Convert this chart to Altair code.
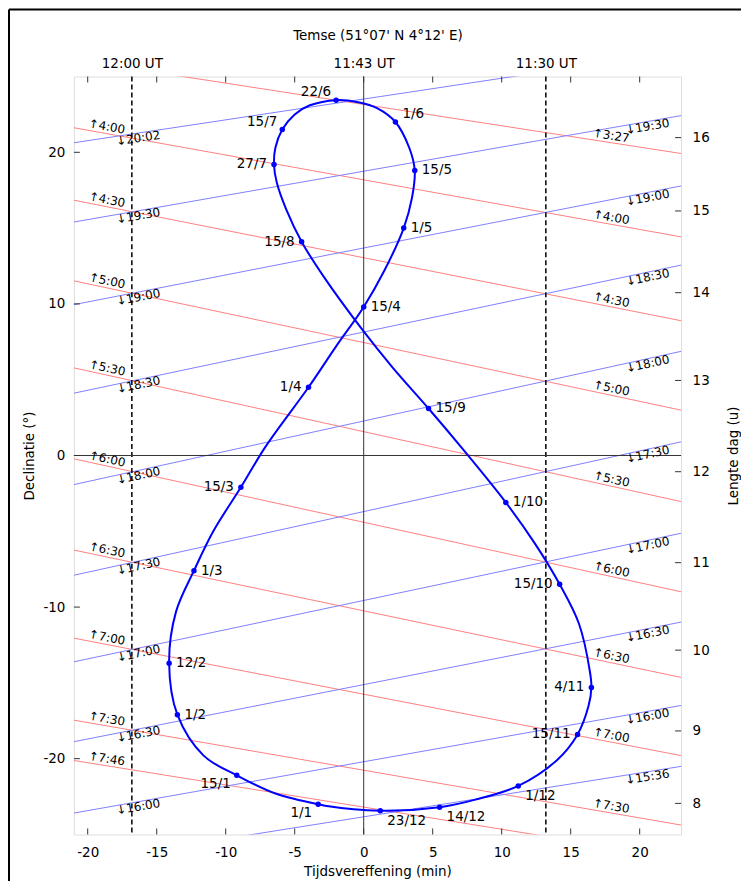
import math
import altair as alt
import pandas as pd

# ---------------- data ----------------
# Analemma: date, equation of time (min), declination (deg)
dates = ["1/1","8/1","15/1","22/1","1/2","12/2","22/2","1/3","8/3","15/3","22/3",
         "1/4","8/4","15/4","22/4","1/5","8/5","15/5","22/5","1/6","8/6","15/6","22/6",
         "1/7","8/7","15/7","22/7","27/7","1/8","8/8","15/8","22/8","1/9","8/9","15/9","22/9",
         "1/10","8/10","15/10","22/10","1/11","4/11","8/11","15/11","22/11",
         "1/12","8/12","14/12","23/12","31/12"]
eot = [-3.3,-6.4,-9.2,-11.6,-13.5,-14.1,-13.6,-12.3,-10.9,-8.9,-7.1,
       -4.0,-2.0,0.0,1.5,2.9,3.5,3.7,3.3,2.3,1.0,-0.4,-2.0,
       -3.9,-5.0,-5.9,-6.4,-6.5,-6.3,-5.6,-4.5,-2.9,-0.1,2.1,4.7,7.2,
       10.3,12.4,14.2,15.6,16.4,16.5,16.3,15.5,14.0,
       11.2,8.1,5.5,1.2,-2.8]
decl = [-23.0,-22.3,-21.1,-19.8,-17.1,-13.7,-10.3,-7.6,-5.0,-2.1,0.6,
        4.5,7.2,9.8,12.2,15.0,17.0,18.8,20.3,22.0,22.9,23.3,23.44,
        23.1,22.5,21.5,20.3,19.2,18.0,16.2,14.1,11.8,8.3,5.8,3.1,0.4,
        -3.1,-5.8,-8.5,-11.1,-14.3,-15.3,-16.5,-18.4,-20.1,
        -21.8,-22.7,-23.2,-23.43,-23.1]

# dates that carry a dot and a label, grouped by where the label sits
label_groups = {
    "right": ["15/5", "1/5", "15/4", "1/3", "12/2", "1/2", "1/10", "15/9"],
    "right_up": ["1/6"],
    "right_down": ["23/12", "14/12", "1/12"],
    "left": ["1/4", "15/3", "15/8", "27/7", "4/11", "15/11", "15/10"],
    "left_up": ["15/7", "22/6"],
    "left_down": ["15/1", "1/1"],
}

# sunrise lines (UT) : declination at x=-21 and x=23
rise_times = ["3:27","4:00","4:30","5:00","5:30","6:00","6:30","7:00","7:30","7:46"]
rise_left  = [26.11, 21.62, 16.84, 11.52, 5.78, -0.22, -6.24, -12.05, -17.46, -20.12]
rise_right = [19.92, 14.42, 8.89, 2.99, -3.04, -8.99, -14.64, -19.80, -24.38, -26.56]
# sunset lines (UT)
set_times = ["15:36","16:00","16:30","17:00","17:30","18:00","18:30","19:00","19:30","20:02"]
set_left  = [-26.87, -23.59, -18.88, -13.61, -7.90, -1.92, 4.11, 9.95, 15.40, 20.63]
set_right = [-20.51, -16.49, -10.99, -5.13, 0.90, 6.87, 12.56, 17.78, 22.42, 26.67]

# axes
x_ticks = [-20, -15, -10, -5, 0, 5, 10, 15, 20]
y_ticks = [-20, -10, 0, 10, 20]
dl_hours = [16, 15, 14, 13, 12, 11, 10, 9, 8]
dl_decl = [20.97, 16.13, 10.74, 4.95, -1.07, -7.07, -12.84, -18.17, -22.95]
noon_pos = [-16.8, 0, 13.2]
noon_labels = ["12:00 UT", "11:43 UT", "11:30 UT"]
noon_dashed = [-16.8, 13.2]

# ---------------- layout ----------------
W, H = 608, 759
XMIN, XMAX, YMIN, YMAX = -21, 23, -25, 25
FONT = "DejaVu Sans"
FS = 13.5
px_min = W / (XMAX - XMIN)
px_deg = H / (YMAX - YMIN)

XS = alt.Scale(domain=[XMIN, XMAX], nice=False, zero=False)
YS = alt.Scale(domain=[YMIN, YMAX], nice=False, zero=False)


def X(f, axis=None):
    return alt.X(f, type="quantitative", scale=XS, axis=axis)


def Y(f, axis=None):
    return alt.Y(f, type="quantitative", scale=YS, axis=axis)


# ---------------- tables ----------------
ana = pd.DataFrame({"date": dates + [dates[0]], "eot": eot + [eot[0]],
                    "decl": decl + [decl[0]], "i": list(range(len(dates) + 1))})

marked = [d for g in label_groups.values() for d in g]
dots = pd.DataFrame({"date": dates, "eot": eot, "decl": decl})
dots = dots[dots["date"].isin(marked)]

line_rows = []
for kind, times, ls, rs in (("rise", rise_times, rise_left, rise_right),
                            ("set", set_times, set_left, set_right)):
    for t, l, r in zip(times, ls, rs):
        line_rows.append({"id": kind + t, "kind": kind, "x": XMIN, "y": l})
        line_rows.append({"id": kind + t, "kind": kind, "x": XMAX, "y": r})
lines = pd.DataFrame(line_rows)

lab_rows = []
for kind, arrow, times, ls, rs, xs in (
        ("rise", "\u2191", rise_times, rise_left, rise_right, (-18.7, 17.85)),
        ("set", "\u2193", set_times, set_left, set_right, (-16.4, 20.5))):
    for t, l, r in zip(times, ls, rs):
        ang = math.degrees(math.atan((l - r) / (XMAX - XMIN) * px_deg / px_min)) % 360
        for E in xs:
            d = l + (r - l) * (E - XMIN) / (XMAX - XMIN)
            if -24.3 < d < 24.3:
                lab_rows.append({"kind": kind, "x": E, "y": d, "text": arrow + t, "angle": ang})
tlabels = pd.DataFrame(lab_rows)

# ---------------- layers ----------------
red_lines = alt.Chart(lines[lines.kind == "rise"]).mark_line(
    clip=True, color="#ff8080", strokeWidth=1).encode(x=X("x"), y=Y("y"), detail="id:N")
blue_lines = alt.Chart(lines[lines.kind == "set"]).mark_line(
    clip=True, color="#8080ff", strokeWidth=1).encode(x=X("x"), y=Y("y"), detail="id:N")

top_axis = alt.Axis(orient="top", values=noon_pos,
                    labelExpr=" : ".join(f"abs(datum.value - ({v})) < 0.001 ? '{t}'"
                                         for v, t in zip(noon_pos, noon_labels)) + " : ''",
                    title="Temse (51°07' N 4°12' E)", ticks=False, domain=False, grid=False,
                    labelPadding=6, titlePadding=14, labelFontSize=FS, titleFontSize=FS,
                    titleFontWeight="normal", labelColor="black", titleColor="black")
dashed = alt.Chart(pd.DataFrame({"x": noon_dashed})).mark_rule(
    color="black", strokeWidth=1.5, strokeDash=[5, 3]).encode(x=X("x", top_axis))

zero_df = pd.DataFrame({"v": [0]})
zero_v = alt.Chart(zero_df).mark_rule(color="#333333", strokeWidth=1).encode(x=X("v"))
zero_h = alt.Chart(zero_df).mark_rule(color="#333333", strokeWidth=1).encode(y=Y("v"))

bottom_axis = alt.Axis(values=x_ticks, ticks=False, domain=False, grid=False,
                       labelExpr="toString(datum.value)",
                       title="Tijdsvereffening (min)", labelPadding=11, titlePadding=6,
                       labelFontSize=FS, titleFontSize=FS, titleFontWeight="normal",
                       labelColor="black", titleColor="black")
left_axis = alt.Axis(values=y_ticks, ticks=False, domain=False, grid=False,
                     labelExpr="toString(datum.value)",
                     title="Declinatie (°)", labelPadding=9, titlePadding=6,
                     labelFontSize=FS, titleFontSize=FS, titleFontWeight="normal",
                     labelColor="black", titleColor="black")
analemma = alt.Chart(ana).mark_line(
    color="#0000ff", strokeWidth=2, interpolate="catmull-rom").encode(
    x=X("eot", bottom_axis), y=Y("decl", left_axis), order="i:Q")
points = alt.Chart(dots).mark_circle(color="#0000ff", size=30, opacity=1).encode(
    x=X("eot"), y=Y("decl"))

place = {
    "right": dict(align="left", dx=7, dy=0),
    "right_up": dict(align="left", dx=7, dy=-8),
    "right_down": dict(align="left", dx=7, dy=10),
    "left": dict(align="right", dx=-7, dy=0),
    "left_up": dict(align="right", dx=-5, dy=-8),
    "left_down": dict(align="right", dx=-6, dy=9),
}
date_text_layers = []
for g, names in label_groups.items():
    sub = dots[dots["date"].isin(names)]
    date_text_layers.append(
        alt.Chart(sub).mark_text(baseline="middle", font=FONT, fontSize=FS, color="black",
                                 **place[g]).encode(x=X("eot"), y=Y("decl"), text="date:N"))

rise_text = alt.Chart(tlabels[tlabels.kind == "rise"]).mark_text(
    baseline="bottom", align="center", font=FONT, fontSize=12, color="black").encode(
    x=X("x"), y=Y("y"), text="text:N", angle=alt.Angle("angle:Q", scale=None))
set_text = alt.Chart(tlabels[tlabels.kind == "set"]).mark_text(
    baseline="top", align="center", font=FONT, fontSize=12, color="black").encode(
    x=X("x"), y=Y("y"), text="text:N", angle=alt.Angle("angle:Q", scale=None))

# inward ticks
xt = pd.DataFrame({"v": x_ticks})
yt = pd.DataFrame({"v": y_ticks})
ticks_bottom = alt.Chart(xt).mark_rule(color="#333333").encode(
    x=X("v"), y=alt.value(H), y2=alt.value(H - 6))
ticks_top = alt.Chart(xt).mark_rule(color="#333333").encode(
    x=X("v"), y=alt.value(0), y2=alt.value(6))
ticks_left = alt.Chart(yt).mark_rule(color="#333333").encode(
    y=Y("v"), x=alt.value(0), x2=alt.value(6))
right_axis = alt.Axis(orient="right", values=dl_decl,
                      labelExpr=" : ".join(f"abs(datum.value - ({v})) < 0.001 ? '{h}'"
                                           for v, h in zip(dl_decl, dl_hours)) + " : ''",
                      title="Lengte dag (u)", titleAngle=270, ticks=False, domain=False,
                      grid=False, labelPadding=11, titlePadding=31, labelFontSize=FS,
                      titleFontSize=FS, titleFontWeight="normal", labelColor="black",
                      titleColor="black")
ticks_right = alt.Chart(pd.DataFrame({"v": dl_decl})).mark_rule(color="#333333").encode(
    y=Y("v", right_axis), x=alt.value(W - 6), x2=alt.value(W))

# outer figure border
one = pd.DataFrame({"a": [0]})
border_top = alt.Chart(one).mark_rule(color="black", strokeWidth=2).encode(
    x=alt.value(-65), x2=alt.value(W + 80), y=alt.value(-67))
border_left = alt.Chart(one).mark_rule(color="black", strokeWidth=2).encode(
    x=alt.value(-65), y=alt.value(-67), y2=alt.value(H + 60))

chart = alt.layer(
    red_lines, blue_lines, dashed, zero_v, zero_h, analemma, points,
    *date_text_layers, rise_text, set_text,
    ticks_bottom, ticks_top, ticks_left, ticks_right, border_top, border_left,
).resolve_axis(x="independent", y="independent").properties(
    width=W, height=H,
    padding={"left": 66, "top": 68, "right": 60, "bottom": 46},
    autosize=alt.AutoSizeParams(type="none"),
).configure_view(stroke="#333333", strokeWidth=1).configure(font=FONT)

chart.save("out.html", embed_options={"renderer": "svg", "actions": False})
